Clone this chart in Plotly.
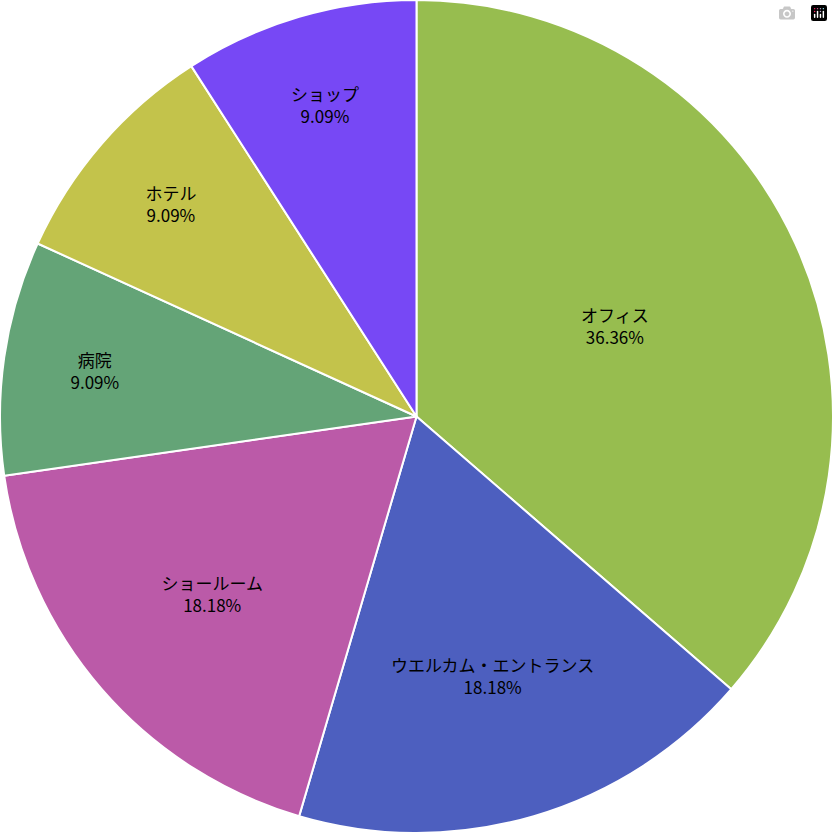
import plotly.graph_objects as go

labels = ["オフィス", "ウエルカム・エントランス", "ショールーム", "病院", "ホテル", "ショップ"]
values = [4, 2, 2, 1, 1, 1]
colors = ["#97bd4f", "#4d5fbf", "#bb5aa8", "#64a477", "#c3c34b", "#7748f5"]

fig = go.Figure(go.Pie(
    labels=labels,
    values=values,
    sort=False,
    direction="clockwise",
    rotation=0,
    marker=dict(colors=colors, line=dict(color="white", width=2)),
    texttemplate="%{label}<br>%{percent:.2%}",
    textposition="inside",
    insidetextorientation="horizontal",
    textfont=dict(color="black", size=17, family="Noto Sans CJK JP"),
    hoverinfo="label+percent",
))
fig.update_layout(
    width=833, height=833,
    margin=dict(l=0, r=0, t=0, b=0),
    showlegend=False,
    paper_bgcolor="white",
)
fig.write_html("out.html", post_script="document.body.style.margin='0';")
